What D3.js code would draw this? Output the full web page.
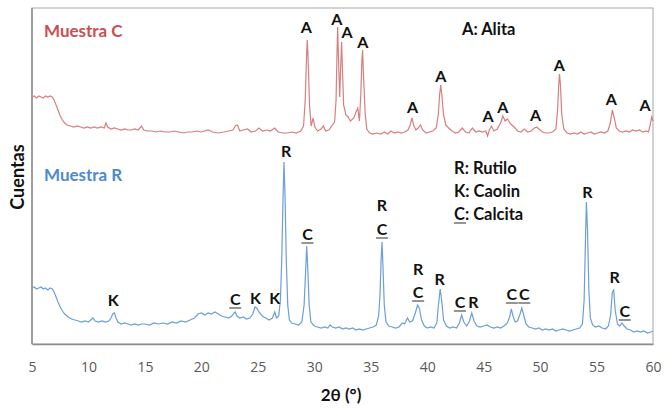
<!DOCTYPE html>
<html>
<head>
<meta charset="utf-8">
<script src="https://cdn.jsdelivr.net/npm/d3@7"></script>
<style>
  body { margin: 0; background: #fff; }
  svg { display: block; font-family: Lato, "Open Sans", sans-serif; }
</style>
</head>
<body>
<svg id="chart" width="667" height="408"></svg>
<script>
// 2theta (deg) vs counts (arbitrary units)
var muestraC = [
  [5.0,247],[5.2,248],[5.4,246],[5.6,248],[5.8,247],[6.0,246],[6.2,248],[6.4,247],[6.6,248],[6.8,247],
  [6.95,244],[7.1,240],[7.3,234],[7.5,228],[7.7,224],[7.9,221],[8.1,219],[8.4,218],[8.7,217],[9.0,218],
  [9.3,217],[9.6,216],[9.9,217],[10.2,216],[10.5,217],[10.8,216],[11.1,217],[11.4,216],[11.55,221],[11.7,217],
  [12.0,215],[12.3,216],[12.6,215],[12.9,214],[13.2,215],[13.5,214],[13.8,214],[14.1,215],[14.4,214],[14.7,218],
  [14.9,214],[15.2,213],[15.6,213],[16.0,212],[16.4,213],[16.8,212],[17.2,212],[17.6,213],[18.0,212],[18.4,211],
  [18.8,212],[19.2,212],[19.6,213],[20.0,212],[20.6,214],[21.0,212],[21.5,211],[22.0,212],[22.4,213],[22.8,214],
  [23.0,218],[23.2,219],[23.4,213],[23.7,214],[24.1,215],[24.4,212],[24.8,213],[25.1,216],[25.4,213],[25.8,214],
  [26.1,213],[26.5,216],[26.8,212],[27.2,211],[27.6,211],[28.0,212],[28.4,211],[28.8,213],[29.05,218],[29.2,244],
  [29.32,289],[29.38,304],[29.46,284],[29.58,239],[29.72,218],[29.9,226],[30.05,217],[30.3,213],[30.6,215],[30.8,218],
  [31.0,213],[31.3,214],[31.6,219],[31.8,222],[31.93,244],[32.0,284],[32.07,317],[32.15,284],[32.25,247],[32.33,274],
  [32.42,302],[32.5,274],[32.6,239],[32.8,229],[33.0,227],[33.2,223],[33.5,226],[33.7,232],[33.85,236],[34.0,223],
  [34.12,249],[34.22,284],[34.28,294],[34.36,269],[34.5,232],[34.65,215],[34.9,211],[35.2,210],[35.5,211],[35.9,210],
  [36.2,212],[36.5,210],[36.8,213],[37.1,211],[37.4,212],[37.7,211],[38.0,212],[38.3,214],[38.5,219],[38.65,226],
  [38.8,219],[39.0,214],[39.2,216],[39.4,219],[39.6,214],[39.9,211],[40.2,212],[40.5,213],[40.8,216],[40.98,229],
  [41.1,249],[41.2,259],[41.3,249],[41.45,229],[41.65,219],[41.9,216],[42.2,213],[42.5,211],[42.8,212],[43.1,216],
  [43.4,212],[43.7,211],[44.0,216],[44.3,212],[44.6,213],[44.9,212],[45.2,213],[45.35,208],[45.5,214],[45.7,218],
  [45.9,213],[46.2,215],[46.5,221],[46.7,228],[46.9,223],[47.1,225],[47.4,220],[47.7,217],[48.0,213],[48.3,212],
  [48.6,215],[48.9,212],[49.2,213],[49.5,216],[49.7,217],[49.9,215],[50.2,212],[50.5,211],[50.8,211],[51.1,212],
  [51.4,215],[51.55,234],[51.65,259],[51.72,270],[51.8,259],[51.92,229],[52.1,215],[52.4,211],[52.7,210],[53.0,211],
  [53.3,210],[53.6,212],[53.9,210],[54.2,211],[54.5,212],[54.8,210],[55.1,211],[55.4,212],[55.7,211],[56.0,213],
  [56.2,220],[56.4,234],[56.55,227],[56.75,216],[57.0,213],[57.3,212],[57.6,213],[57.9,212],[58.2,214],[58.5,213],
  [58.8,214],[59.1,212],[59.4,213],[59.6,212],[59.75,219],[59.88,227],[60.0,223]
];

var muestraR = [
  [5.0,56],[5.2,57],[5.4,55],[5.6,56],[5.8,57],[6.0,55],[6.2,56],[6.4,54],[6.6,56],[6.8,55],
  [6.95,52],[7.1,48],[7.3,42],[7.5,37],[7.7,33],[7.9,30],[8.2,27],[8.5,25],[8.8,24],[9.1,23],
  [9.4,22],[9.7,23],[10.0,22],[10.2,24],[10.4,26],[10.6,23],[10.9,22],[11.2,23],[11.5,22],[11.8,23],
  [12.0,26],[12.15,30],[12.3,31],[12.45,26],[12.6,22],[12.9,20],[13.2,21],[13.5,20],[13.8,19],[14.1,20],
  [14.4,19],[14.7,20],[15.0,20],[15.4,19],[15.8,21],[16.2,20],[16.6,21],[17.0,20],[17.4,22],[17.8,21],
  [18.2,23],[18.6,22],[19.0,24],[19.4,26],[19.7,30],[20.0,31],[20.3,29],[20.6,31],[20.9,30],[21.2,32],
  [21.5,30],[21.8,28],[22.1,27],[22.4,26],[22.7,28],[22.9,31],[23.0,32],[23.15,28],[23.4,26],[23.7,27],
  [24.0,25],[24.3,26],[24.55,30],[24.75,37],[24.9,36],[25.1,32],[25.4,28],[25.7,26],[26.0,24],[26.3,26],
  [26.5,32],[26.65,26],[26.85,28],[27.0,44],[27.12,84],[27.22,139],[27.32,182],[27.42,144],[27.52,84],[27.65,39],
  [27.8,24],[28.0,21],[28.3,20],[28.6,19],[28.9,22],[29.1,39],[29.22,69],[29.33,98],[29.43,74],[29.55,39],
  [29.7,22],[30.0,18],[30.3,17],[30.6,16],[30.9,17],[31.2,16],[31.4,19],[31.6,17],[31.9,16],[32.2,17],
  [32.5,15],[32.8,16],[33.1,15],[33.4,16],[33.7,14],[34.0,15],[34.3,14],[34.6,15],[34.9,16],[35.2,17],
  [35.5,19],[35.7,28],[35.82,49],[35.92,84],[36.0,102],[36.08,79],[36.2,39],[36.35,22],[36.6,18],[36.9,17],
  [37.2,16],[37.5,17],[37.8,21],[38.0,20],[38.25,26],[38.45,22],[38.7,23],[38.95,31],[39.15,39],[39.3,36],
  [39.5,24],[39.75,18],[40.0,16],[40.3,17],[40.6,16],[40.85,21],[41.0,39],[41.15,55],[41.28,44],[41.45,24],
  [41.7,18],[42.0,16],[42.3,17],[42.6,16],[42.85,21],[43.05,29],[43.25,22],[43.5,18],[43.75,23],[43.95,31],
  [44.15,23],[44.4,18],[44.7,17],[45.0,18],[45.3,19],[45.6,17],[45.9,16],[46.2,17],[46.5,16],[46.8,18],
  [47.1,21],[47.3,27],[47.45,35],[47.6,28],[47.8,22],[48.0,23],[48.2,29],[48.38,36],[48.55,29],[48.75,20],
  [49.0,17],[49.3,16],[49.6,15],[49.9,16],[50.2,14],[50.5,15],[50.8,14],[51.1,15],[51.4,13],[51.7,14],
  [52.0,15],[52.3,14],[52.6,13],[52.9,14],[53.2,15],[53.5,16],[53.75,20],[53.9,44],[54.0,94],[54.1,142],
  [54.2,114],[54.32,54],[54.45,26],[54.65,19],[54.9,17],[55.2,18],[55.5,16],[55.8,15],[56.05,18],[56.25,29],
  [56.4,52],[56.52,54],[56.65,34],[56.85,20],[57.05,18],[57.25,21],[57.45,18],[57.7,15],[58.0,14],[58.3,12],
  [58.6,13],[58.9,12],[59.2,13],[59.5,11],[59.8,12],[60.0,13]
];

// peak labels: [2theta, letter, height of label baseline]
var labelsC = [
  [29.3,"A",311],[32.0,"A",319],[32.9,"A",306],[34.3,"A",296],[38.7,"A",231],[41.2,"A",262],
  [45.4,"A",222],[46.7,"A",231],[49.6,"A",223],[51.7,"A",273],[56.3,"A",239],[59.3,"A",233]
];
var labelsR = [
  [12.2,"K",38],[23.0,"C",39],[24.8,"K",40],[26.5,"K",40],[27.5,"R",187],[29.4,"C",104],
  [36.0,"R",133],[36.0,"C",109],[39.2,"R",69],[39.2,"C",46],[41.1,"R",59],[42.9,"C",36],
  [44.1,"R",36],[47.5,"C",44],[48.6,"C",44],[54.2,"R",146],[56.6,"R",61],[57.5,"C",27]
];
var xTicks = [5, 10, 15, 20, 25, 30, 35, 40, 45, 50, 55, 60];

var svg = d3.select("#chart");
var mLeft = 32, mRight = 653, mTop = 8, mBottom = 344;

var x = d3.scaleLinear().domain([5, 60]).range([mLeft, mRight]);
var y = d3.scaleLinear().domain([0, 336]).range([mBottom, mTop]);

// frame
svg.append("rect")
    .attr("x", mLeft).attr("y", mTop)
    .attr("width", mRight - mLeft).attr("height", mBottom - mTop)
    .attr("fill", "none").attr("stroke", "#a6a6a6").attr("stroke-width", 1);

var xAxis = d3.axisBottom(x).tickValues(xTicks).tickSize(0).tickPadding(0);
var gx = svg.append("g").attr("transform", "translate(0," + mBottom + ")").call(xAxis);
gx.select(".domain").attr("stroke", "#8c8c8c").attr("stroke-width", 1.5);
gx.selectAll("text")
    .attr("y", 28).attr("dy", null)
    .attr("fill", "#595959")
    .style("font-family", "'Open Sans', sans-serif")
    .style("font-size", "14px");

svg.append("line")
    .attr("x1", mLeft).attr("x2", mLeft).attr("y1", mTop).attr("y2", mBottom)
    .attr("stroke", "#8c8c8c").attr("stroke-width", 1.5);

var line = d3.line()
    .x(function(d) { return x(d[0]); })
    .y(function(d) { return y(d[1]); });

svg.append("path").datum(muestraC)
    .attr("d", line).attr("fill", "none")
    .attr("stroke", "#d77f7e").attr("stroke-width", 1.2);
svg.append("path").datum(muestraR)
    .attr("d", line).attr("fill", "none")
    .attr("stroke", "#6b9fd9").attr("stroke-width", 1.2);

function peakLabels(data) {
    var g = svg.append("g");
    g.selectAll("text").data(data).enter().append("text")
        .attr("x", function(d) { return x(d[0]); })
        .attr("y", function(d) { return y(d[2]); })
        .attr("text-anchor", "middle")
        .style("font-size", "16px").style("font-weight", "bold")
        .attr("fill", "#111")
        .text(function(d) { return d[1]; });
    g.selectAll("line").data(data.filter(function(d) { return d[1] == "C"; })).enter().append("line")
        .attr("x1", function(d) { return x(d[0]) - 6; })
        .attr("x2", function(d) { return x(d[0]) + 6; })
        .attr("y1", function(d) { return y(d[2]) + 3; })
        .attr("y2", function(d) { return y(d[2]) + 3; })
        .attr("stroke", "#8a8a8a").attr("stroke-width", 1.8);
}
peakLabels(labelsC);
peakLabels(labelsR);

svg.append("text").attr("x", 44).attr("y", 37)
    .style("font-size", "17px").style("font-weight", "bold")
    .attr("fill", "#c9504e").text("Muestra C");
svg.append("text").attr("x", 44).attr("y", 181)
    .style("font-size", "17px").style("font-weight", "bold")
    .attr("fill", "#4f89cf").text("Muestra R");

svg.append("text").attr("x", 462).attr("y", 35)
    .style("font-size", "16.5px").style("font-weight", "bold")
    .attr("fill", "#111").text("A: Alita");

var legend = [["R", ": Rutilo"], ["K", ": Caolin"], ["C", ": Calcita"]];
legend.forEach(function(d, i) {
    var t = svg.append("text").attr("x", 454).attr("y", 174 + i * 23)
        .style("font-size", "16.5px").style("font-weight", "bold").attr("fill", "#111");
    t.append("tspan").text(d[0]);
    t.append("tspan").text(d[1]);
    if (d[0] == "C") {
        svg.append("line")
            .attr("x1", 454).attr("x2", 466)
            .attr("y1", 177 + i * 23).attr("y2", 177 + i * 23)
            .attr("stroke", "#8a8a8a").attr("stroke-width", 1.8);
    }
});

svg.append("text").attr("x", 341).attr("y", 401)
    .attr("text-anchor", "middle")
    .style("font-size", "17px").style("font-weight", "bold")
    .attr("fill", "#111").text("2θ (°)");

svg.append("text")
    .attr("transform", "translate(24,177) rotate(-90)")
    .attr("text-anchor", "middle")
    .style("font-size", "18px").style("font-weight", "bold")
    .attr("fill", "#111").text("Cuentas");
</script>
</body>
</html>
